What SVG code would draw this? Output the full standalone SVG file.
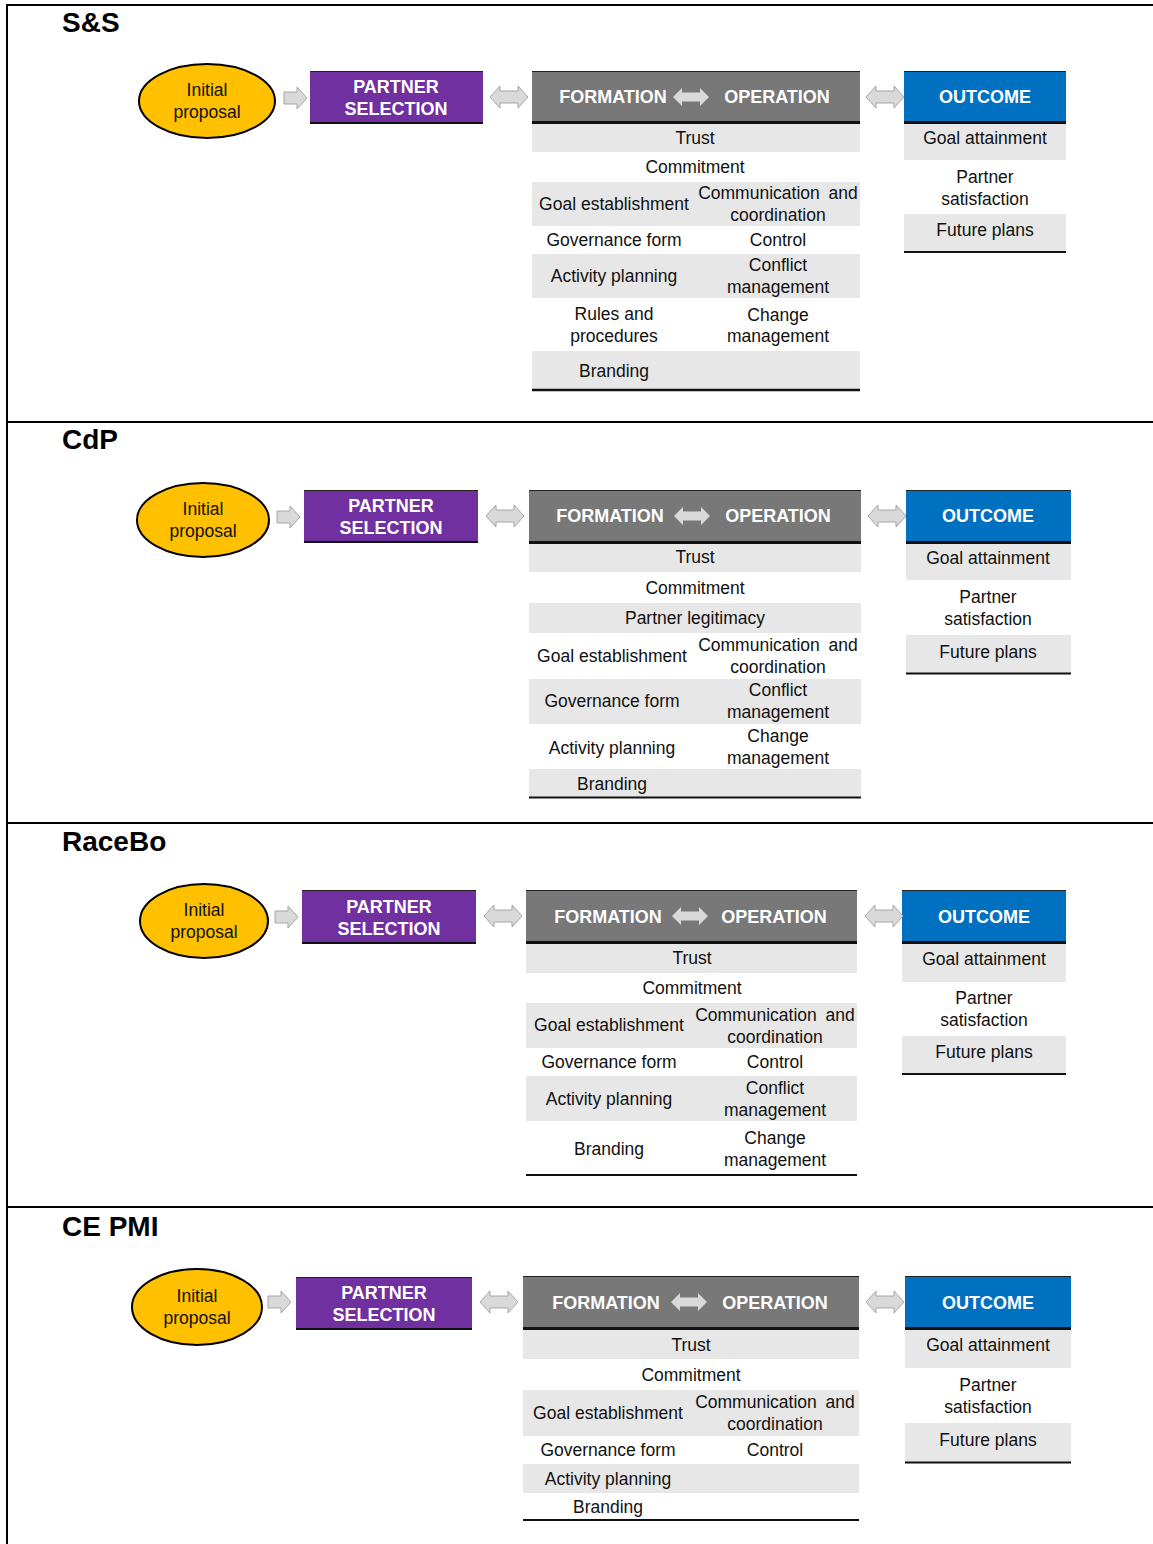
<svg xmlns="http://www.w3.org/2000/svg" xmlns:xlink="http://www.w3.org/1999/xlink" width="1153" height="1544" viewBox="0 0 1153 1544">
  <style>
    text { font-family: "Liberation Sans", Arial, sans-serif; }
    .title { font-size: 28px; font-weight: bold; fill: #000; }
    .t { font-size: 17.5px; fill: #111; text-anchor: middle; }
    .h { font-size: 18px; font-weight: bold; fill: #fff; text-anchor: middle; }
    .ell { fill: #FFC000; stroke: #000; stroke-width: 2; }
    .purple { fill: #7030A0; }
    .grayhd { fill: #787878; }
    .blue { fill: #0070C0; }
    .row { fill: #E7E7E7; }
    .topline { stroke: #222; stroke-width: 1.2; }
    .botline { stroke: #111; stroke-width: 3; }
    .frame { stroke: #000; stroke-width: 2; fill: none; }
    .conn { fill: #D9D9D9; stroke: #A6A6A6; stroke-width: 1; }
    .inner { fill: #D9D9D9; }
  </style>
  <defs>
    <path id="arr1" d="M0,-6 H13 V-11 L23,0 L13,11 V6 H0 Z"/>
    <path id="arr2" d="M0,0 L10,-11 V-6 H28 V-11 L38,0 L28,11 V6 H10 V11 Z"/>
    <path id="arr3" d="M0,0 L9,-9 V-4.5 H27 V-9 L36,0 L27,9 V4.5 H9 V9 Z"/>
  </defs>

  <rect width="1153" height="1544" fill="#fff"/>

  <!-- panel frame and separators -->
  <g id="frame" class="frame">
    <path d="M7,1544 V5 H1153"/>
    <path d="M7,422 H1153"/>
    <path d="M7,823 H1153"/>
    <path d="M7,1207 H1153"/>
  </g>

  <!-- ===== Panel 1: S&S ===== -->
  <g id="panel-ss">
    <text class="title" x="62" y="32">S&amp;S</text>
    <g id="ss-initial">
      <ellipse class="ell" cx="207" cy="101" rx="68" ry="37"/>
      <text class="t" x="207" y="96">Initial</text>
      <text class="t" x="207" y="118">proposal</text>
    </g>
    <g id="ss-partner">
      <rect class="purple" x="310" y="71" width="173" height="53"/>
      <line class="topline" x1="310" y1="71.5" x2="483" y2="71.5"/>
      <line class="botline" x1="310" y1="123" x2="483" y2="123" style="stroke-width:2"/>
      <text class="h" x="396" y="93">PARTNER</text>
      <text class="h" x="396" y="115">SELECTION</text>
    </g>
    <g id="ss-formation">
      <rect class="grayhd" x="532" y="71" width="328" height="52"/>
      <line class="topline" x1="532" y1="71.5" x2="860" y2="71.5"/>
      <line class="botline" x1="532" y1="122.5" x2="860" y2="122.5"/>
      <text class="h" x="613" y="103">FORMATION</text>
      <use href="#arr3" xlink:href="#arr3" class="inner" transform="translate(673,97)"/>
      <text class="h" x="777" y="103">OPERATION</text>
      <rect class="row" x="532" y="124" width="328" height="28"/>
      <rect class="row" x="532" y="182" width="328" height="44"/>
      <rect class="row" x="532" y="254" width="328" height="44"/>
      <rect class="row" x="532" y="351" width="328" height="38"/>
      <line class="botline" x1="532" y1="390" x2="860" y2="390" style="stroke-width:2.5"/>
      <text class="t" x="695" y="144">Trust</text>
      <text class="t" x="695" y="173">Commitment</text>
      <text class="t" x="614" y="210">Goal establishment</text>
      <text class="t" x="778" y="199" word-spacing="4">Communication and</text>
      <text class="t" x="778" y="221">coordination</text>
      <text class="t" x="614" y="246">Governance form</text>
      <text class="t" x="778" y="246">Control</text>
      <text class="t" x="614" y="282">Activity planning</text>
      <text class="t" x="778" y="271">Conflict</text>
      <text class="t" x="778" y="293">management</text>
      <text class="t" x="614" y="320">Rules and</text>
      <text class="t" x="614" y="342">procedures</text>
      <text class="t" x="778" y="321">Change</text>
      <text class="t" x="778" y="342">management</text>
      <text class="t" x="614" y="377">Branding</text>
    </g>
    <g id="ss-outcome">
      <rect class="blue" x="904" y="71" width="162" height="52"/>
      <line class="topline" x1="904" y1="71.5" x2="1066" y2="71.5"/>
      <line class="botline" x1="904" y1="122.5" x2="1066" y2="122.5"/>
      <text class="h" x="985" y="103">OUTCOME</text>
      <rect class="row" x="904" y="124" width="162" height="36"/>
      <rect class="row" x="904" y="214" width="162" height="37"/>
      <line class="botline" x1="904" y1="252" x2="1066" y2="252" style="stroke-width:2"/>
      <text class="t" x="985" y="144">Goal attainment</text>
      <text class="t" x="985" y="183">Partner</text>
      <text class="t" x="985" y="205">satisfaction</text>
      <text class="t" x="985" y="236">Future plans</text>
    </g>
  </g>

  <!-- ===== Panel 2: CdP ===== -->
  <g id="panel-cdp">
    <text class="title" x="62" y="449">CdP</text>
    <g id="cdp-initial">
      <ellipse class="ell" cx="203" cy="520" rx="66" ry="37"/>
      <text class="t" x="203" y="515">Initial</text>
      <text class="t" x="203" y="537">proposal</text>
    </g>
    <g id="cdp-partner">
      <rect class="purple" x="304" y="490" width="174" height="53"/>
      <line class="topline" x1="304" y1="490.5" x2="478" y2="490.5"/>
      <line class="botline" x1="304" y1="542" x2="478" y2="542" style="stroke-width:2"/>
      <text class="h" x="391" y="512">PARTNER</text>
      <text class="h" x="391" y="534">SELECTION</text>
    </g>
    <g id="cdp-formation">
      <rect class="grayhd" x="529" y="490" width="332" height="53"/>
      <line class="topline" x1="529" y1="490.5" x2="861" y2="490.5"/>
      <line class="botline" x1="529" y1="542.5" x2="861" y2="542.5"/>
      <text class="h" x="610" y="522">FORMATION</text>
      <use href="#arr3" xlink:href="#arr3" class="inner" transform="translate(674,516)"/>
      <text class="h" x="778" y="522">OPERATION</text>
      <rect class="row" x="529" y="544" width="332" height="28"/>
      <rect class="row" x="529" y="603" width="332" height="30"/>
      <rect class="row" x="529" y="679" width="332" height="45"/>
      <rect class="row" x="529" y="769" width="332" height="28"/>
      <line class="botline" x1="529" y1="797.5" x2="861" y2="797.5" style="stroke-width:2"/>
      <text class="t" x="695" y="563">Trust</text>
      <text class="t" x="695" y="594">Commitment</text>
      <text class="t" x="695" y="624">Partner legitimacy</text>
      <text class="t" x="612" y="662">Goal establishment</text>
      <text class="t" x="778" y="651" word-spacing="4">Communication and</text>
      <text class="t" x="778" y="673">coordination</text>
      <text class="t" x="612" y="707">Governance form</text>
      <text class="t" x="778" y="696">Conflict</text>
      <text class="t" x="778" y="718">management</text>
      <text class="t" x="612" y="754">Activity planning</text>
      <text class="t" x="778" y="742">Change</text>
      <text class="t" x="778" y="764">management</text>
      <text class="t" x="612" y="790">Branding</text>
    </g>
    <g id="cdp-outcome">
      <rect class="blue" x="906" y="490" width="165" height="53"/>
      <line class="topline" x1="906" y1="490.5" x2="1071" y2="490.5"/>
      <line class="botline" x1="906" y1="542.5" x2="1071" y2="542.5"/>
      <text class="h" x="988" y="522">OUTCOME</text>
      <rect class="row" x="906" y="544" width="165" height="36"/>
      <rect class="row" x="906" y="635" width="165" height="38"/>
      <line class="botline" x1="906" y1="673.5" x2="1071" y2="673.5" style="stroke-width:2"/>
      <text class="t" x="988" y="564">Goal attainment</text>
      <text class="t" x="988" y="603">Partner</text>
      <text class="t" x="988" y="625">satisfaction</text>
      <text class="t" x="988" y="658">Future plans</text>
    </g>
  </g>

  <!-- ===== Panel 3: RaceBo ===== -->
  <g id="panel-racebo">
    <text class="title" x="62" y="851">RaceBo</text>
    <g id="racebo-initial">
      <ellipse class="ell" cx="204" cy="921" rx="64" ry="37"/>
      <text class="t" x="204" y="916">Initial</text>
      <text class="t" x="204" y="938">proposal</text>
    </g>
    <g id="racebo-partner">
      <rect class="purple" x="302" y="890" width="174" height="54"/>
      <line class="topline" x1="302" y1="890.5" x2="476" y2="890.5"/>
      <line class="botline" x1="302" y1="943" x2="476" y2="943" style="stroke-width:2"/>
      <text class="h" x="389" y="913">PARTNER</text>
      <text class="h" x="389" y="935">SELECTION</text>
    </g>
    <g id="racebo-formation">
      <rect class="grayhd" x="526" y="890" width="331" height="53"/>
      <line class="topline" x1="526" y1="890.5" x2="857" y2="890.5"/>
      <line class="botline" x1="526" y1="942.5" x2="857" y2="942.5"/>
      <text class="h" x="608" y="923">FORMATION</text>
      <use href="#arr3" xlink:href="#arr3" class="inner" transform="translate(672,916)"/>
      <text class="h" x="774" y="923">OPERATION</text>
      <rect class="row" x="526" y="944" width="331" height="29"/>
      <rect class="row" x="526" y="1003" width="331" height="45"/>
      <rect class="row" x="526" y="1076" width="331" height="45"/>
      <line class="botline" x1="526" y1="1175" x2="857" y2="1175" style="stroke-width:2"/>
      <text class="t" x="692" y="964">Trust</text>
      <text class="t" x="692" y="994">Commitment</text>
      <text class="t" x="609" y="1031">Goal establishment</text>
      <text class="t" x="775" y="1021" word-spacing="4">Communication and</text>
      <text class="t" x="775" y="1043">coordination</text>
      <text class="t" x="609" y="1068">Governance form</text>
      <text class="t" x="775" y="1068">Control</text>
      <text class="t" x="609" y="1105">Activity planning</text>
      <text class="t" x="775" y="1094">Conflict</text>
      <text class="t" x="775" y="1116">management</text>
      <text class="t" x="609" y="1155">Branding</text>
      <text class="t" x="775" y="1144">Change</text>
      <text class="t" x="775" y="1166">management</text>
    </g>
    <g id="racebo-outcome">
      <rect class="blue" x="902" y="890" width="164" height="53"/>
      <line class="topline" x1="902" y1="890.5" x2="1066" y2="890.5"/>
      <line class="botline" x1="902" y1="942.5" x2="1066" y2="942.5"/>
      <text class="h" x="984" y="923">OUTCOME</text>
      <rect class="row" x="902" y="944" width="164" height="38"/>
      <rect class="row" x="902" y="1036" width="164" height="37"/>
      <line class="botline" x1="902" y1="1074" x2="1066" y2="1074" style="stroke-width:2"/>
      <text class="t" x="984" y="965">Goal attainment</text>
      <text class="t" x="984" y="1004">Partner</text>
      <text class="t" x="984" y="1026">satisfaction</text>
      <text class="t" x="984" y="1058">Future plans</text>
    </g>
  </g>

  <!-- ===== Panel 4: CE PMI ===== -->
  <g id="panel-cepmi">
    <text class="title" x="62" y="1236">CE PMI</text>
    <g id="cepmi-initial">
      <ellipse class="ell" cx="197" cy="1307" rx="65" ry="38"/>
      <text class="t" x="197" y="1302">Initial</text>
      <text class="t" x="197" y="1324">proposal</text>
    </g>
    <g id="cepmi-partner">
      <rect class="purple" x="296" y="1277" width="176" height="53"/>
      <line class="topline" x1="296" y1="1277.5" x2="472" y2="1277.5"/>
      <line class="botline" x1="296" y1="1329" x2="472" y2="1329" style="stroke-width:2"/>
      <text class="h" x="384" y="1299">PARTNER</text>
      <text class="h" x="384" y="1321">SELECTION</text>
    </g>
    <g id="cepmi-formation">
      <rect class="grayhd" x="523" y="1276" width="336" height="53"/>
      <line class="topline" x1="523" y1="1276.5" x2="859" y2="1276.5"/>
      <line class="botline" x1="523" y1="1328.5" x2="859" y2="1328.5"/>
      <text class="h" x="606" y="1309">FORMATION</text>
      <use href="#arr3" xlink:href="#arr3" class="inner" transform="translate(671,1302)"/>
      <text class="h" x="775" y="1309">OPERATION</text>
      <rect class="row" x="523" y="1330" width="336" height="29"/>
      <rect class="row" x="523" y="1390" width="336" height="46"/>
      <rect class="row" x="523" y="1464" width="336" height="29"/>
      <line class="botline" x1="523" y1="1520" x2="859" y2="1520" style="stroke-width:2"/>
      <text class="t" x="691" y="1351">Trust</text>
      <text class="t" x="691" y="1381">Commitment</text>
      <text class="t" x="608" y="1419">Goal establishment</text>
      <text class="t" x="775" y="1408" word-spacing="4">Communication and</text>
      <text class="t" x="775" y="1430">coordination</text>
      <text class="t" x="608" y="1456">Governance form</text>
      <text class="t" x="775" y="1456">Control</text>
      <text class="t" x="608" y="1485">Activity planning</text>
      <text class="t" x="608" y="1513">Branding</text>
    </g>
    <g id="cepmi-outcome">
      <rect class="blue" x="905" y="1276" width="166" height="53"/>
      <line class="topline" x1="905" y1="1276.5" x2="1071" y2="1276.5"/>
      <line class="botline" x1="905" y1="1328.5" x2="1071" y2="1328.5"/>
      <text class="h" x="988" y="1309">OUTCOME</text>
      <rect class="row" x="905" y="1330" width="166" height="38"/>
      <rect class="row" x="905" y="1423" width="166" height="39"/>
      <line class="botline" x1="905" y1="1462.5" x2="1071" y2="1462.5" style="stroke-width:2"/>
      <text class="t" x="988" y="1351">Goal attainment</text>
      <text class="t" x="988" y="1391">Partner</text>
      <text class="t" x="988" y="1413">satisfaction</text>
      <text class="t" x="988" y="1446">Future plans</text>
    </g>
  </g>

  <!-- block-arrow connectors between the stages -->
  <g id="connectors" class="conn">
    <use href="#arr1" xlink:href="#arr1" transform="translate(284,98)"/>
    <use href="#arr2" xlink:href="#arr2" transform="translate(490,97)"/>
    <use href="#arr2" xlink:href="#arr2" transform="translate(866,97)"/>

    <use href="#arr1" xlink:href="#arr1" transform="translate(277,517)"/>
    <use href="#arr2" xlink:href="#arr2" transform="translate(486,516)"/>
    <use href="#arr2" xlink:href="#arr2" transform="translate(868,516)"/>

    <use href="#arr1" xlink:href="#arr1" transform="translate(275,917)"/>
    <use href="#arr2" xlink:href="#arr2" transform="translate(484,916)"/>
    <use href="#arr2" xlink:href="#arr2" transform="translate(865,916)"/>

    <use href="#arr1" xlink:href="#arr1" transform="translate(268,1302)"/>
    <use href="#arr2" xlink:href="#arr2" transform="translate(480,1302)"/>
    <use href="#arr2" xlink:href="#arr2" transform="translate(866,1302)"/>
  </g>
</svg>
